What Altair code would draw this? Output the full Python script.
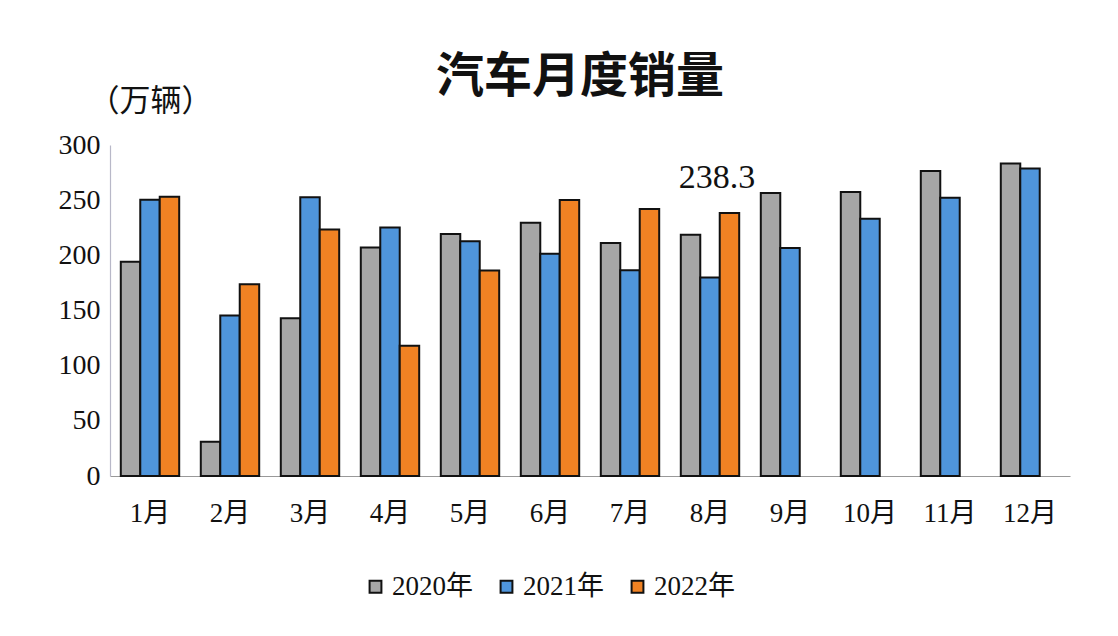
import altair as alt
import pandas as pd

months = ["1月", "2月", "3月", "4月", "5月", "6月", "7月", "8月", "9月", "10月", "11月", "12月"]
years = ["2020年", "2021年", "2022年"]
sales_2020 = [194.1, 31.0, 143.0, 207.0, 219.4, 229.5, 211.2, 218.6, 256.5, 257.3, 276.5, 283.3]
sales_2021 = [250.3, 145.5, 252.6, 225.2, 212.8, 201.5, 186.4, 179.9, 206.7, 233.2, 252.2, 278.6]
sales_2022 = [253.1, 173.7, 223.4, 118.1, 186.2, 250.2, 242.0, 238.3]
colors = ["#A6A6A6", "#4F95DB", "#F08223"]
annot_month = "8月"
annot_year = "2022年"

rows = []
for y, vals in zip(years, [sales_2020, sales_2021, sales_2022]):
    for m, v in zip(months, vals):
        rows.append({"month": m, "year": y, "value": v})
df = pd.DataFrame(rows)

SERIF = "Liberation Serif, Noto Sans CJK SC"

x_enc = alt.X("month:N", sort=months,
              scale=alt.Scale(paddingInner=0.27, paddingOuter=0.135),
              axis=alt.Axis(title=None, labelAngle=0, ticks=False, labelFont=SERIF,
                            labelFontSize=27, labelColor="#111", labelPadding=24,
                            domainColor="#999", domainWidth=1.2))

bars = alt.Chart(df).mark_bar(stroke="#111", strokeWidth=2).encode(
    x=x_enc,
    xOffset=alt.XOffset("year:N", sort=years, scale=alt.Scale(paddingInner=0, paddingOuter=0)),
    y=alt.Y("value:Q", scale=alt.Scale(domain=[0, 300]),
            axis=alt.Axis(values=[0, 50, 100, 150, 200, 250, 300], grid=False, ticks=False,
                          labelFont=SERIF, labelFontSize=28, labelColor="#111", labelPadding=10,
                          domainColor="#B8B8C8", domainWidth=1.2,
                          title="（万辆）", titleAngle=0, titleFont="Noto Sans CJK SC",
                          titleFontSize=31, titleFontWeight="normal", titleColor="#111",
                          titleAlign="left", titleBaseline="middle", titleX=-22, titleY=-44)),
    color=alt.Color("year:N", sort=years, scale=alt.Scale(domain=years, range=colors),
                    legend=alt.Legend(title=None, orient="none", direction="horizontal",
                                      legendX=252, legendY=428, symbolType="square",
                                      symbolSize=140, symbolStrokeColor="#111",
                                      symbolStrokeWidth=2, labelFont=SERIF,
                                      labelFontSize=27, labelColor="#111",
                                      columnPadding=20, labelOffset=3)),
)

annot = alt.Chart(df).transform_filter(
    (alt.datum.month == annot_month) & (alt.datum.year == annot_year)
).mark_text(font=SERIF, fontSize=34, color="#111", baseline="bottom", dy=-18, dx=7).encode(
    x=alt.X("month:N", sort=months),
    y=alt.Y("value:Q"),
    text=alt.Text("value:Q", format=".1f"),
)

chart = alt.layer(bars, annot).properties(
    width=960, height=331,
    autosize=alt.AutoSizeParams(type="none"),
    padding={"left": 110, "top": 145, "right": 48, "bottom": 160},
    title=alt.TitleParams("汽车月度销量", font="Noto Sans CJK SC", fontSize=48,
                          fontWeight="bold", color="#111", anchor="middle", offset=0,
                          dy=17, dx=-10),
    background="white",
).configure_view(stroke=None)

chart.save("out.html", embed_options={"renderer": "svg", "actions": False})
